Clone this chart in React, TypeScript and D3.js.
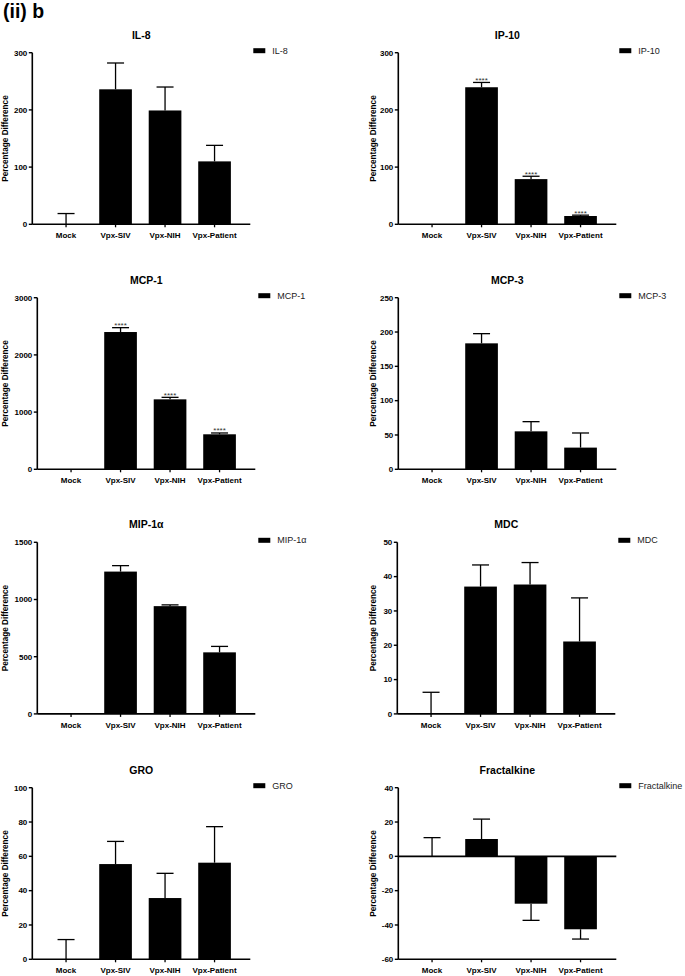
import React from 'react';
import * as d3 from 'd3';

// groups on the x axis
const categories = ['Mock', 'Vpx-SIV', 'Vpx-NIH', 'Vpx-Patient'];

// mean % difference and error (SEM) per analyte
const il8Means = [0, 236, 199, 110];
const il8Errors = [18.8, 46, 41, 28];
const il8Ticks = [0, 100, 200, 300];

const ip10Means = [0, 239.6, 79, 14.5];
const ip10Errors = [0, 8.4, 5, 1.5];
const ip10Ticks = [0, 100, 200, 300];
const ip10Stars = ['', '****', '****', '****'];

const mcp1Means = [0, 2400, 1223, 612];
const mcp1Errors = [0, 76, 35, 23];
const mcp1Ticks = [0, 1000, 2000, 3000];
const mcp1Stars = ['', '****', '****', '****'];

const mcp3Means = [0, 183.5, 55.3, 31.6];
const mcp3Errors = [0, 14.1, 14.1, 21.3];
const mcp3Ticks = [0, 50, 100, 150, 200, 250];

const mip1aMeans = [0, 1244, 942, 538];
const mip1aErrors = [0, 52, 11, 52];
const mip1aTicks = [0, 500, 1000, 1500];

const mdcMeans = [0, 37.1, 37.7, 21.1];
const mdcErrors = [6.3, 6.3, 6.4, 12.7];
const mdcTicks = [0, 10, 20, 30, 40, 50];

const groMeans = [0, 55.5, 35.7, 56.3];
const groErrors = [11.5, 13.2, 14.4, 21];
const groTicks = [0, 20, 40, 60, 80, 100];

const fktMeans = [0, 10.1, -27.6, -42.5];
const fktErrors = [10.9, 11.6, 9.7, 5.7];
const fktTicks = [-60, -40, -20, 0, 20, 40];

const FONT = '"Liberation Sans", Arial, Helvetica, sans-serif';
const PLOT_H = 171.6;
const PLOT_W = 218;

type PanelProps = {
  title: string;
  means: number[];
  errors: number[];
  ticks: number[];
  stars?: string[];
  axisX: number;
  top: number;
  labelX: number;
};

const Panel = ({ title, means, errors, ticks, stars, axisX, top, labelX }: PanelProps) => {
  const bottom = top + PLOT_H;
  const y = d3.scaleLinear()
    .domain([ticks[0], ticks[ticks.length - 1]])
    .range([bottom, top]);
  const x = d3.scaleBand()
    .domain(categories)
    .range([axisX + 9, axisX + 9 + 198])
    .paddingInner(0.34)
    .paddingOuter(0.17);
  const bw = x.bandwidth();
  const capW = 17;
  const zeroY = y(0);
  const hasNegative = ticks[0] < 0;

  return (
    <g fontFamily={FONT}>
      <text x={axisX + PLOT_W / 2} y={top - 14} textAnchor="middle" fontSize={10.5} fontWeight="bold">{title}</text>

      <text
        transform={`translate(${labelX},${(top + bottom) / 2}) rotate(-90)`}
        textAnchor="middle"
        dominantBaseline="central"
        fontSize={8.2}
        fontWeight="bold"
      >Percentage Difference</text>

      {/* bars */}
      {categories.map((c, i) => {
        const v = means[i];
        if (v === 0) return null;
        const y0 = y(Math.max(v, 0));
        const y1 = y(Math.min(v, 0));
        return <rect key={c} x={x(c)} y={y0} width={bw} height={y1 - y0} fill="#000" />;
      })}

      {/* error bars */}
      {categories.map((c, i) => {
        const e = errors[i];
        if (!e) return null;
        const v = means[i];
        const cx = (x(c) as number) + bw / 2;
        const end = v >= 0 ? v + e : v - e;
        return (
          <g key={c} stroke="#000" strokeWidth={1.3}>
            <line x1={cx} x2={cx} y1={y(v)} y2={y(end)} />
            <line x1={cx - capW / 2} x2={cx + capW / 2} y1={y(end)} y2={y(end)} />
          </g>
        );
      })}

      {/* significance stars */}
      {stars && categories.map((c, i) => {
        if (!stars[i]) return null;
        const cx = (x(c) as number) + bw / 2;
        return (
          <text key={c} x={cx} y={y(means[i] + errors[i]) + 0.5} textAnchor="middle" fontSize={8} fill="#333">{stars[i]}</text>
        );
      })}

      {/* y axis */}
      <line x1={axisX} x2={axisX} y1={top} y2={bottom} stroke="#000" strokeWidth={1.6} />
      {ticks.map(t => (
        <g key={t}>
          <line x1={axisX - 3.5} x2={axisX} y1={y(t)} y2={y(t)} stroke="#000" strokeWidth={1.4} />
          <text x={axisX - 5} y={y(t)} dy="0.35em" textAnchor="end" fontSize={8} fontWeight="bold">{t}</text>
        </g>
      ))}

      {/* x axis */}
      <line x1={axisX} x2={axisX + PLOT_W} y1={zeroY} y2={zeroY} stroke="#000" strokeWidth={1.6} />
      {hasNegative && (
        <line x1={axisX} x2={axisX + PLOT_W} y1={bottom} y2={bottom} stroke="#000" strokeWidth={1.6} />
      )}
      {categories.map(c => {
        const cx = (x(c) as number) + bw / 2;
        return (
          <g key={c}>
            <line x1={cx} x2={cx} y1={bottom} y2={bottom + 3} stroke="#000" strokeWidth={1.3} />
            <text x={cx} y={bottom + 14} textAnchor="middle" fontSize={8} fontWeight="bold">{c}</text>
          </g>
        );
      })}

      {/* legend */}
      <rect x={axisX + 221} y={top - 4.5} width={12} height={5} fill="#000" />
      <text x={axisX + 240} y={top - 2} dy="0.35em" fontSize={9} fill="#222">{title}</text>
    </g>
  );
};

const App = () => {
  const rows = [52.7, 297.7, 542.3, 787.7];
  return (
    <svg width={685} height={976} style={{ position: 'absolute', left: 0, top: 0, background: '#fff' }}>
      <text x={3} y={18} fontFamily={FONT} fontSize={19.5} fontWeight="bold">(ii) b</text>

      <Panel title="IL-8" means={il8Means} errors={il8Errors} ticks={il8Ticks} axisX={32.3} top={rows[0]} labelX={5} />
      <Panel title="IP-10" means={ip10Means} errors={ip10Errors} ticks={ip10Ticks} stars={ip10Stars} axisX={398.3} top={rows[0]} labelX={373} />

      <Panel title="MCP-1" means={mcp1Means} errors={mcp1Errors} ticks={mcp1Ticks} stars={mcp1Stars} axisX={37.3} top={rows[1]} labelX={5} />
      <Panel title="MCP-3" means={mcp3Means} errors={mcp3Errors} ticks={mcp3Ticks} axisX={398.3} top={rows[1]} labelX={373} />

      <Panel title="MIP-1α" means={mip1aMeans} errors={mip1aErrors} ticks={mip1aTicks} axisX={37.3} top={rows[2]} labelX={5} />
      <Panel title="MDC" means={mdcMeans} errors={mdcErrors} ticks={mdcTicks} axisX={397.3} top={rows[2]} labelX={373} />

      <Panel title="GRO" means={groMeans} errors={groErrors} ticks={groTicks} axisX={32.3} top={rows[3]} labelX={5} />
      <Panel title="Fractalkine" means={fktMeans} errors={fktErrors} ticks={fktTicks} axisX={398.3} top={rows[3]} labelX={373} />
    </svg>
  );
};

export default App;
